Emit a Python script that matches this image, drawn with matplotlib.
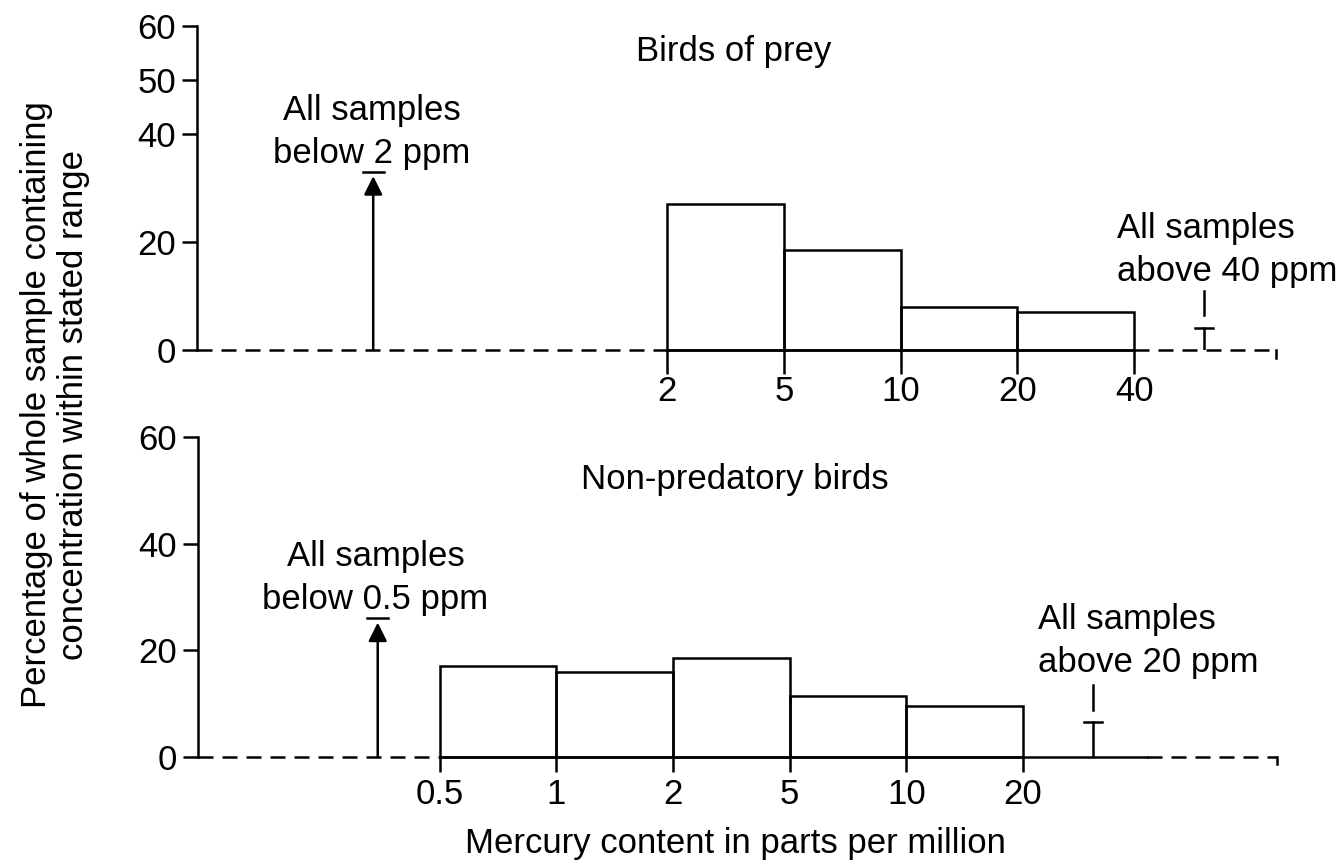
import numpy as np
import matplotlib
matplotlib.use("Agg")
import matplotlib.pyplot as plt

plt.rcParams["font.family"] = ["Liberation Sans", "DejaVu Sans"]

# bird of prey data
prey_edges = ["2", "5", "10", "20", "40"]
prey_pct = [27, 18.5, 8, 7]
prey_below = 33     # all samples below 2 ppm
prey_above = 4      # all samples above 40 ppm

# non-predatory birds data
nonpred_edges = ["0.5", "1", "2", "5", "10", "20"]
nonpred_pct = [17, 16, 18.5, 11.5, 9.5]
nonpred_below = 26  # all samples below 0.5 ppm
nonpred_above = 6.5  # all samples above 20 ppm

prey_yticks = [0, 20, 40, 50, 60]
nonpred_yticks = [0, 20, 40, 60]

FS = 25
LW = 1.8
DASH = (0, (6, 3.6))
NOTE_SPACING = 1.38


def draw_panel(ax, edges, pct, below, above, start, below_x, above_x,
               solid_end, yticks, tick_len, tick_pad):

    n = len(pct)
    pos = start + np.arange(n + 1)

    ax.bar(
        pos[:-1],
        pct,
        width=1,
        align="edge",
        fill=False,
        edgecolor="black",
        linewidth=LW,
        clip_on=False
    )

    xmax = 9.25

    # baseline: dashed outside the measured range
    ax.plot([0, start], [0, 0], color="black", lw=LW, ls=DASH, clip_on=False)
    ax.plot([start, solid_end], [0, 0], color="black", lw=LW, clip_on=False)
    ax.plot([solid_end, xmax], [0, 0], color="black", lw=LW, ls=DASH,
            clip_on=False)
    ax.plot([xmax, xmax], [0, -1.4], color="black", lw=LW, clip_on=False)

    # arrow for samples below the lowest bin
    ax.annotate(
        "",
        xy=(below_x, below - 0.8),
        xytext=(below_x, 0),
        arrowprops=dict(arrowstyle="-|>", color="black", lw=LW,
                        mutation_scale=28, shrinkA=0, shrinkB=0)
    )
    ax.plot([below_x - 0.09, below_x + 0.09], [below, below],
            color="black", lw=LW)

    # I-bar for samples above the highest bin
    ax.plot([above_x, above_x], [0, above], color="black", lw=LW)
    ax.plot([above_x - 0.08, above_x + 0.08], [above, above],
            color="black", lw=LW)
    ax.plot([above_x, above_x], [above + 2.4, above + 7], color="black",
            lw=LW)

    ax.set_xlim(0, 9.5)
    ax.set_ylim(0, 60)

    ax.set_xticks(pos)
    ax.set_xticklabels(edges, fontsize=FS)
    ax.set_yticks(yticks)
    ax.set_yticklabels([str(t) for t in yticks], fontsize=FS)

    ax.tick_params(axis="x", length=tick_len, width=LW, pad=tick_pad,
                   direction="out")
    ax.tick_params(axis="y", length=11, width=LW, pad=4, direction="out")

    for side in ["top", "right", "bottom"]:
        ax.spines[side].set_visible(False)
    ax.spines["left"].set_linewidth(LW)


fig = plt.figure(figsize=(13.44, 8.63), dpi=100)

unit = 116.7 / 1344
ax_top = fig.add_axes([197 / 1344, 1 - 350 / 863, 9.5 * unit, 324 / 863])
ax_bot = fig.add_axes([198 / 1344, 1 - 757 / 863, 9.5 * unit, 320 / 863])

draw_panel(ax_top, prey_edges, prey_pct, prey_below, prey_above,
           start=4.03, below_x=1.51, above_x=8.63, solid_end=8.03,
           yticks=prey_yticks, tick_len=17, tick_pad=1)

draw_panel(ax_bot, nonpred_edges, nonpred_pct, nonpred_below, nonpred_above,
           start=2.07, below_x=1.54, above_x=7.67, solid_end=8.13,
           yticks=nonpred_yticks, tick_len=11, tick_pad=4)

ax_top.text(4.6, 55.2, "Birds of prey", fontsize=FS, ha="center",
            va="center")
ax_top.text(1.5, 40.4, "All samples\nbelow 2 ppm", fontsize=FS,
            ha="center", va="center", multialignment="center",
            linespacing=NOTE_SPACING)
ax_top.text(7.88, 18.5, "All samples\nabove 40 ppm", fontsize=FS,
            ha="left", va="center", multialignment="left",
            linespacing=NOTE_SPACING)

ax_bot.text(4.6, 52.1, "Non-predatory birds", fontsize=FS, ha="center",
            va="center")
ax_bot.text(1.52, 33.6, "All samples\nbelow 0.5 ppm", fontsize=FS,
            ha="center", va="center", multialignment="center",
            linespacing=NOTE_SPACING)
ax_bot.text(7.2, 21.7, "All samples\nabove 20 ppm", fontsize=FS,
            ha="left", va="center", multialignment="left",
            linespacing=NOTE_SPACING)

fig.text(735 / 1344, 1 - 843 / 863, "Mercury content in parts per million",
         fontsize=FS, ha="center", va="center")

fig.text(55 / 1344, 1 - 405 / 863,
         "Percentage of whole sample containing\n"
         "concentration within stated range",
         fontsize=FS, ha="center", va="center", rotation=90,
         multialignment="center", linespacing=1.15)

fig.savefig("out.png", dpi=100)
